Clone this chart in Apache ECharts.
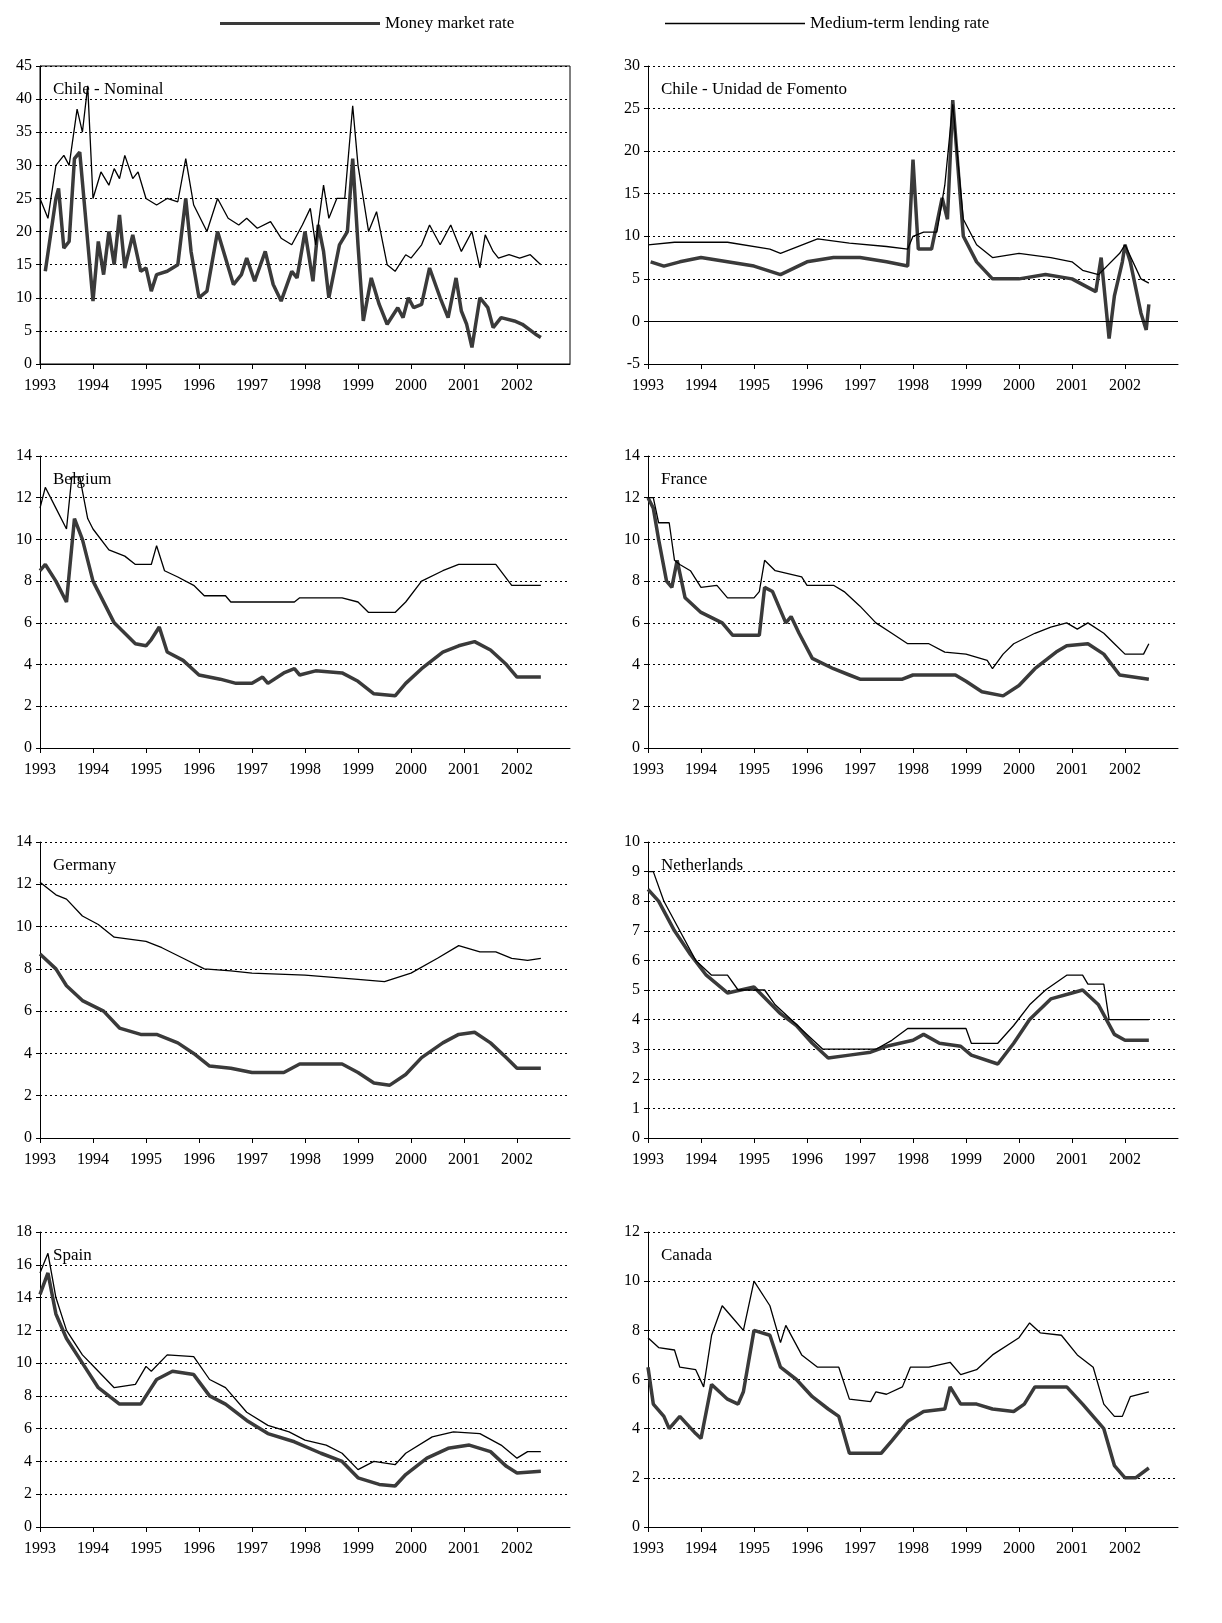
<!DOCTYPE html>
<html style="height: 100%">
<head>
<meta charset="utf-8">
<script src="https://cdn.jsdelivr.net/npm/echarts@6/dist/echarts.min.js"></script>
</head>
<body style="height: 100%; margin: 0; background: #fff">
<div id="container" style="width: 1222px; height: 1623px"></div>
<script type="text/javascript">
// [year, value] pairs
var chileNomLend = [[1993,25],[1993.15,22],[1993.3,30],[1993.45,31.5],[1993.55,30],[1993.7,38.5],[1993.8,35],[1993.9,42],[1994,25],[1994.15,29],[1994.3,27],[1994.4,29.5],[1994.5,28],[1994.6,31.5],[1994.75,28],[1994.85,29],[1995,25],[1995.2,24],[1995.4,25],[1995.6,24.5],[1995.75,31],[1995.9,24],[1996.15,20],[1996.35,25],[1996.55,22],[1996.75,21],[1996.9,22],[1997.1,20.5],[1997.35,21.5],[1997.55,19],[1997.75,18],[1997.95,21],[1998.1,23.5],[1998.2,18],[1998.35,27],[1998.45,22],[1998.6,25],[1998.75,25],[1998.9,39],[1999,30],[1999.1,25],[1999.2,20],[1999.35,23],[1999.55,15],[1999.7,14],[1999.9,16.5],[2000,16],[2000.2,18],[2000.35,21],[2000.55,18],[2000.75,21],[2000.95,17],[2001.15,20],[2001.3,14.5],[2001.4,19.5],[2001.55,17],[2001.65,16],[2001.85,16.5],[2002.05,16],[2002.25,16.5],[2002.45,15]];
var chileNomMoney = [[1993.1,14],[1993.3,25],[1993.35,26.5],[1993.45,17.5],[1993.55,18.5],[1993.65,31],[1993.75,32],[1993.85,23],[1994,9.5],[1994.1,18.5],[1994.2,13.5],[1994.3,20],[1994.4,15],[1994.5,22.5],[1994.6,14.5],[1994.75,19.5],[1994.9,14],[1995,14.5],[1995.1,11],[1995.2,13.5],[1995.4,14],[1995.6,15],[1995.75,25],[1995.85,17],[1996,10],[1996.15,11],[1996.35,20],[1996.5,16],[1996.65,12],[1996.8,13.5],[1996.9,16],[1997.05,12.5],[1997.25,17],[1997.4,12],[1997.55,9.5],[1997.75,14],[1997.85,13],[1998,20],[1998.15,12.5],[1998.25,21],[1998.35,17],[1998.45,10],[1998.65,18],[1998.8,20],[1998.9,31],[1999,18],[1999.1,6.5],[1999.25,13],[1999.4,9],[1999.55,6],[1999.75,8.5],[1999.85,7],[1999.95,10],[2000.05,8.5],[2000.2,9],[2000.35,14.5],[2000.55,10],[2000.7,7],[2000.85,13],[2000.95,8],[2001.05,6],[2001.15,2.5],[2001.3,10],[2001.45,8.5],[2001.55,5.5],[2001.7,7],[2001.95,6.5],[2002.1,6],[2002.35,4.5],[2002.45,4]];
var chileUfLend = [[1993,9],[1993.5,9.3],[1994.5,9.3],[1995.3,8.5],[1995.5,8],[1996.2,9.7],[1996.8,9.2],[1997.5,8.8],[1997.9,8.5],[1998,10],[1998.2,10.5],[1998.45,10.5],[1998.6,16],[1998.75,25.5],[1998.95,12],[1999.2,9],[1999.5,7.5],[2000,8],[2000.6,7.5],[2001,7],[2001.2,6],[2001.5,5.5],[2001.9,8],[2002,9],[2002.3,5],[2002.45,4.5]];
var chileUfMoney = [[1993.05,7],[1993.3,6.5],[1993.6,7],[1994,7.5],[1994.5,7],[1995,6.5],[1995.5,5.5],[1996,7],[1996.5,7.5],[1997,7.5],[1997.5,7],[1997.9,6.5],[1998,19],[1998.1,8.5],[1998.35,8.5],[1998.55,14.5],[1998.65,12],[1998.75,26],[1998.95,10],[1999.2,7],[1999.5,5],[2000,5],[2000.5,5.5],[2001,5],[2001.3,4],[2001.45,3.5],[2001.55,7.5],[2001.7,-2],[2001.8,3],[2001.95,7],[2002,9],[2002.1,7],[2002.3,1],[2002.4,-1],[2002.45,2]];
var belgiumLend = [[1993,11.5],[1993.1,12.5],[1993.3,11.5],[1993.5,10.5],[1993.6,13],[1993.75,13],[1993.9,11],[1994,10.5],[1994.3,9.5],[1994.6,9.2],[1994.8,8.8],[1995.1,8.8],[1995.2,9.7],[1995.35,8.5],[1995.6,8.2],[1995.9,7.8],[1996.1,7.3],[1996.5,7.3],[1996.6,7],[1997.8,7],[1997.9,7.2],[1998.7,7.2],[1999,7],[1999.2,6.5],[1999.7,6.5],[1999.9,7],[2000.2,8],[2000.6,8.5],[2000.9,8.8],[2001.6,8.8],[2001.9,7.8],[2002.45,7.8]];
var belgiumMoney = [[1993,8.5],[1993.1,8.8],[1993.3,8],[1993.5,7],[1993.65,11],[1993.8,10],[1994,8],[1994.4,6],[1994.8,5],[1995,4.9],[1995.1,5.2],[1995.25,5.8],[1995.4,4.6],[1995.7,4.2],[1996,3.5],[1996.4,3.3],[1996.7,3.1],[1997,3.1],[1997.2,3.4],[1997.3,3.1],[1997.6,3.6],[1997.8,3.8],[1997.9,3.5],[1998.2,3.7],[1998.7,3.6],[1999,3.2],[1999.3,2.6],[1999.7,2.5],[1999.9,3.1],[2000.2,3.8],[2000.6,4.6],[2000.9,4.9],[2001.2,5.1],[2001.5,4.7],[2001.8,4],[2002,3.4],[2002.45,3.4]];
var franceLend = [[1993,12],[1993.1,12],[1993.2,10.8],[1993.4,10.8],[1993.5,9],[1993.6,8.8],[1993.8,8.5],[1994,7.7],[1994.3,7.8],[1994.5,7.2],[1995,7.2],[1995.1,7.5],[1995.2,9],[1995.4,8.5],[1995.9,8.2],[1996,7.8],[1996.5,7.8],[1996.7,7.5],[1997,6.8],[1997.3,6],[1997.6,5.5],[1997.9,5],[1998.3,5],[1998.6,4.6],[1999,4.5],[1999.4,4.2],[1999.5,3.8],[1999.7,4.5],[1999.9,5],[2000.3,5.5],[2000.6,5.8],[2000.9,6],[2001.1,5.7],[2001.3,6],[2001.6,5.5],[2001.8,5],[2002,4.5],[2002.35,4.5],[2002.45,5]];
var franceMoney = [[1993,12],[1993.1,11.5],[1993.2,10],[1993.35,8],[1993.45,7.7],[1993.55,9],[1993.7,7.2],[1994,6.5],[1994.4,6],[1994.6,5.4],[1995.1,5.4],[1995.2,7.7],[1995.35,7.5],[1995.6,6],[1995.7,6.3],[1995.85,5.5],[1996.1,4.3],[1996.5,3.8],[1996.8,3.5],[1997,3.3],[1997.8,3.3],[1998,3.5],[1998.8,3.5],[1999,3.2],[1999.3,2.7],[1999.7,2.5],[2000,3],[2000.3,3.8],[2000.7,4.6],[2000.9,4.9],[2001.3,5],[2001.6,4.5],[2001.9,3.5],[2002.45,3.3]];
var germanyLend = [[1993,12.1],[1993.3,11.5],[1993.5,11.3],[1993.8,10.5],[1994.1,10.1],[1994.4,9.5],[1995,9.3],[1995.3,9],[1995.7,8.5],[1996.1,8],[1996.6,7.9],[1997,7.8],[1998,7.7],[1999,7.5],[1999.5,7.4],[2000,7.8],[2000.5,8.5],[2000.9,9.1],[2001.3,8.8],[2001.6,8.8],[2001.9,8.5],[2002.2,8.4],[2002.45,8.5]];
var germanyMoney = [[1993,8.7],[1993.3,8],[1993.5,7.2],[1993.8,6.5],[1994.2,6],[1994.5,5.2],[1994.9,4.9],[1995.2,4.9],[1995.6,4.5],[1995.9,4],[1996.2,3.4],[1996.6,3.3],[1997,3.1],[1997.6,3.1],[1997.9,3.5],[1998.7,3.5],[1999,3.1],[1999.3,2.6],[1999.6,2.5],[1999.9,3],[2000.2,3.8],[2000.6,4.5],[2000.9,4.9],[2001.2,5],[2001.5,4.5],[2001.8,3.8],[2002,3.3],[2002.45,3.3]];
var nethLend = [[1993,9],[1993.1,9],[1993.3,8],[1993.6,7],[1993.9,6],[1994.2,5.5],[1994.5,5.5],[1994.7,5],[1995.2,5],[1995.4,4.5],[1995.7,4],[1996,3.5],[1996.3,3],[1997.3,3],[1997.6,3.3],[1997.9,3.7],[1999,3.7],[1999.1,3.2],[1999.6,3.2],[1999.9,3.8],[2000.2,4.5],[2000.5,5],[2000.9,5.5],[2001.2,5.5],[2001.3,5.2],[2001.6,5.2],[2001.7,4],[2002.45,4]];
var nethMoney = [[1993,8.4],[1993.2,8],[1993.5,7],[1993.8,6.2],[1994.1,5.5],[1994.5,4.9],[1995,5.1],[1995.5,4.2],[1995.8,3.8],[1996.1,3.2],[1996.4,2.7],[1996.8,2.8],[1997.2,2.9],[1997.5,3.1],[1998,3.3],[1998.2,3.5],[1998.5,3.2],[1998.9,3.1],[1999.1,2.8],[1999.6,2.5],[1999.9,3.2],[2000.2,4],[2000.6,4.7],[2001,4.9],[2001.2,5],[2001.5,4.5],[2001.8,3.5],[2002,3.3],[2002.45,3.3]];
var spainLend = [[1993,15.5],[1993.15,16.7],[1993.3,14],[1993.5,12],[1993.8,10.5],[1994.1,9.5],[1994.4,8.5],[1994.8,8.7],[1995,9.8],[1995.1,9.5],[1995.4,10.5],[1995.9,10.4],[1996.2,9],[1996.5,8.5],[1996.9,7],[1997.3,6.2],[1997.7,5.8],[1998,5.3],[1998.4,5],[1998.7,4.5],[1999,3.5],[1999.3,4],[1999.7,3.8],[1999.9,4.5],[2000.4,5.5],[2000.8,5.8],[2001.3,5.7],[2001.7,5],[2002,4.2],[2002.2,4.6],[2002.45,4.6]];
var spainMoney = [[1993,14.2],[1993.15,15.5],[1993.3,13],[1993.5,11.5],[1993.8,10],[1994.1,8.5],[1994.5,7.5],[1994.9,7.5],[1995.2,9],[1995.5,9.5],[1995.9,9.3],[1996.2,8],[1996.5,7.5],[1996.9,6.5],[1997.3,5.7],[1997.8,5.2],[1998.3,4.5],[1998.7,4],[1999,3],[1999.4,2.6],[1999.7,2.5],[1999.9,3.2],[2000.3,4.2],[2000.7,4.8],[2001.1,5],[2001.5,4.6],[2001.8,3.7],[2002,3.3],[2002.45,3.4]];
var canadaLend = [[1993,7.7],[1993.2,7.3],[1993.5,7.2],[1993.6,6.5],[1993.9,6.4],[1994.05,5.7],[1994.2,7.8],[1994.4,9],[1994.6,8.5],[1994.8,8],[1995,10],[1995.3,9],[1995.5,7.5],[1995.6,8.2],[1995.9,7],[1996.2,6.5],[1996.6,6.5],[1996.8,5.2],[1997.2,5.1],[1997.3,5.5],[1997.5,5.4],[1997.8,5.7],[1997.95,6.5],[1998.3,6.5],[1998.7,6.7],[1998.9,6.2],[1999.2,6.4],[1999.5,7],[2000,7.7],[2000.2,8.3],[2000.4,7.9],[2000.8,7.8],[2001.1,7],[2001.4,6.5],[2001.6,5],[2001.8,4.5],[2001.95,4.5],[2002.1,5.3],[2002.45,5.5]];
var canadaMoney = [[1993,6.5],[1993.1,5],[1993.3,4.5],[1993.4,4],[1993.6,4.5],[1993.9,3.8],[1994,3.6],[1994.2,5.8],[1994.5,5.2],[1994.7,5],[1994.8,5.5],[1995,8],[1995.3,7.8],[1995.5,6.5],[1995.8,6],[1996.1,5.3],[1996.4,4.8],[1996.6,4.5],[1996.8,3],[1997.4,3],[1997.6,3.5],[1997.9,4.3],[1998.2,4.7],[1998.6,4.8],[1998.7,5.7],[1998.9,5],[1999.2,5],[1999.5,4.8],[1999.9,4.7],[2000.1,5],[2000.3,5.7],[2000.9,5.7],[2001.2,5],[2001.4,4.5],[2001.6,4],[2001.8,2.5],[2002,2],[2002.2,2],[2002.45,2.4]];

var panels = [
  {title: 'Chile - Nominal', lend: chileNomLend, money: chileNomMoney, min: 0, max: 45, step: 5},
  {title: 'Chile - Unidad de Fomento', lend: chileUfLend, money: chileUfMoney, min: -5, max: 30, step: 5},
  {title: 'Belgium', lend: belgiumLend, money: belgiumMoney, min: 0, max: 14, step: 2},
  {title: 'France', lend: franceLend, money: franceMoney, min: 0, max: 14, step: 2},
  {title: 'Germany', lend: germanyLend, money: germanyMoney, min: 0, max: 14, step: 2},
  {title: 'Netherlands', lend: nethLend, money: nethMoney, min: 0, max: 10, step: 1},
  {title: 'Spain', lend: spainLend, money: spainMoney, min: 0, max: 18, step: 2},
  {title: 'Canada', lend: canadaLend, money: canadaMoney, min: 0, max: 12, step: 2}
];

var rows = [[66, 298], [456, 292], [842, 296], [1232, 295]];
var cols = [40, 648];
var font = 'Liberation Serif';

var grid = [], xAxis = [], yAxis = [], series = [], titles = [];
panels.forEach(function (p, i) {
  var r = rows[Math.floor(i / 2)], c = cols[i % 2];
  grid.push({left: c, top: r[0], width: 530, height: r[1],
    show: i === 0, borderColor: '#000', borderWidth: 1});
  xAxis.push({
    type: 'value', gridIndex: i, min: 1993, max: 2003, interval: 1,
    splitLine: {show: false},
    axisLine: {onZero: false, lineStyle: {color: '#000'}},
    axisTick: {show: true, length: 5, lineStyle: {color: '#000'}},
    axisLabel: {color: '#000', fontFamily: font, fontSize: 16, margin: 14, showMaxLabel: false,
      formatter: function (v) { return String(Math.round(v)); }}
  });
  yAxis.push({
    type: 'value', gridIndex: i, min: p.min, max: p.max, interval: p.step,
    axisLine: {show: true, lineStyle: {color: '#000'}},
    axisTick: {show: true, length: 4, lineStyle: {color: '#000'}},
    axisLabel: {color: '#000', fontFamily: font, fontSize: 16, margin: 8},
    splitLine: {show: true, lineStyle: {color: '#000', type: [2, 3], width: 1}}
  });
  var money = {
    name: 'Money market rate', type: 'line', xAxisIndex: i, yAxisIndex: i,
    data: p.money, symbol: 'none', lineStyle: {color: '#3a3a3a', width: 3.5}, itemStyle: {color: '#3a3a3a'}
  };
  if (p.min < 0) {
    money.markLine = {silent: true, symbol: 'none', label: {show: false},
      lineStyle: {color: '#000', type: 'solid', width: 1}, data: [{yAxis: 0}]};
  }
  series.push(money);
  series.push({
    name: 'Medium-term lending rate', type: 'line', xAxisIndex: i, yAxisIndex: i,
    data: p.lend, symbol: 'none', lineStyle: {color: '#000', width: 1.3}, itemStyle: {color: '#000'}
  });
  titles.push({text: p.title, left: c + 8, top: r[0] + 10,
    textStyle: {fontFamily: font, fontSize: 17, fontWeight: 'normal', color: '#000'}});
});

var chart = echarts.init(document.getElementById('container'));
chart.setOption({
  backgroundColor: '#fff',
  animation: false,
  title: titles,
  legend: [
    {data: ['Money market rate'], left: 215, top: 10, icon: 'rect', itemWidth: 160, itemHeight: 3,
      textStyle: {fontFamily: font, fontSize: 17, color: '#000'}},
    {data: ['Medium-term lending rate'], left: 660, top: 10, icon: 'rect', itemWidth: 140, itemHeight: 1.5,
      textStyle: {fontFamily: font, fontSize: 17, color: '#000'}}
  ],
  grid: grid,
  xAxis: xAxis,
  yAxis: yAxis,
  series: series
});
</script>
</body>
</html>
